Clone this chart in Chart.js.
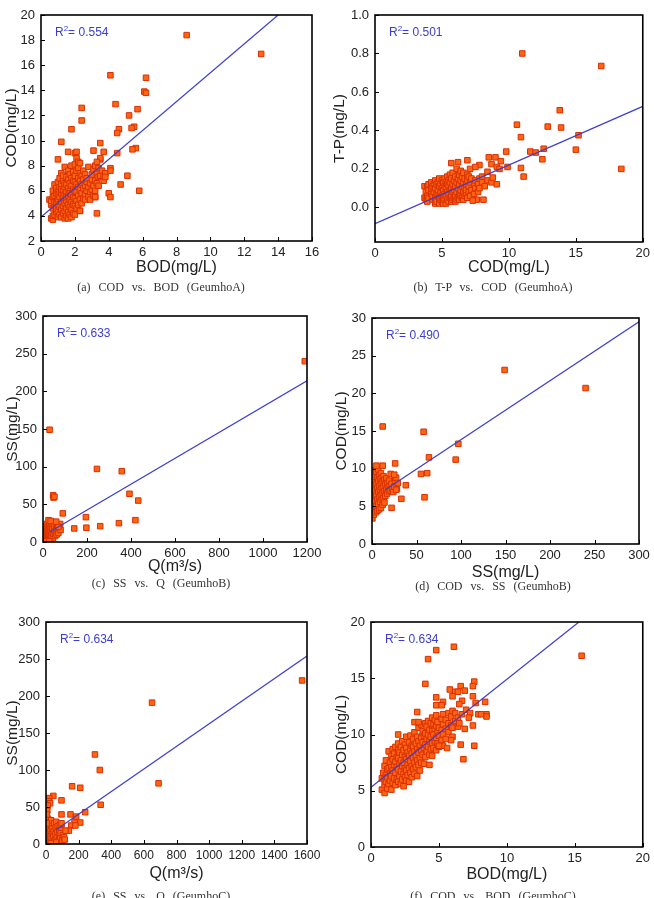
<!DOCTYPE html>
<html><head><meta charset="utf-8">
<script src="https://cdn.jsdelivr.net/npm/chart.js@4/dist/chart.umd.min.js"></script>
<style>
body{margin:0;width:654px;height:898px;background:#fff;position:relative;overflow:hidden}
canvas{position:absolute}
.cap{position:absolute;font-family:"Liberation Serif","DejaVu Serif",serif;font-size:12px;color:#333;white-space:pre;transform:translate(-50%,-50%);word-spacing:5px}
</style></head><body>
<script>
// ---------- DATA ----------
const aPoints = [[0.5,5.3],[0.6,3.8],[0.6,4.9],[0.6,5.2],[0.7,3.7],[0.7,4.0],[0.7,4.6],[0.7,5.5],[0.7,6.0],[0.8,4.1],[0.8,4.8],[0.8,5.6],[0.8,6.5],[0.8,5.1],[0.9,4.3],[0.9,5.0],[0.9,5.8],[0.9,6.2],[0.9,4.6],[1.0,3.9],[1.0,4.4],[1.0,5.3],[1.0,6.0],[1.0,6.7],[1.0,5.7],[1.0,4.9],[1.1,4.1],[1.1,4.7],[1.1,5.5],[1.1,6.3],[1.1,7.0],[1.1,5.9],[1.2,3.9],[1.2,4.5],[1.2,5.1],[1.2,5.8],[1.2,6.5],[1.2,7.4],[1.2,6.1],[1.3,4.2],[1.3,4.8],[1.3,5.4],[1.3,6.0],[1.3,6.8],[1.3,7.2],[1.3,5.6],[1.4,3.8],[1.4,4.4],[1.4,5.0],[1.4,5.7],[1.4,6.3],[1.4,7.9],[1.4,6.6],[1.5,4.0],[1.5,4.6],[1.5,5.2],[1.5,5.9],[1.5,6.5],[1.5,7.1],[1.5,5.5],[1.6,3.8],[1.6,4.3],[1.6,4.9],[1.6,5.6],[1.6,6.2],[1.6,6.9],[1.6,7.6],[1.7,4.1],[1.7,4.7],[1.7,5.3],[1.7,6.0],[1.7,6.6],[1.7,7.3],[1.7,5.8],[1.8,3.9],[1.8,4.5],[1.8,5.1],[1.8,5.7],[1.8,6.4],[1.8,7.0],[1.8,8.0],[1.9,4.2],[1.9,4.9],[1.9,5.5],[1.9,6.1],[1.9,6.8],[1.9,7.5],[2.0,4.1],[2.0,4.8],[2.0,5.4],[2.0,6.0],[2.0,6.7],[2.0,7.2],[2.0,8.1],[2.0,9.0],[2.1,4.6],[2.1,5.2],[2.1,5.9],[2.1,6.5],[2.1,7.6],[2.1,8.6],[2.2,4.9],[2.2,5.6],[2.2,6.3],[2.2,7.0],[2.2,7.8],[2.2,8.3],[2.3,4.4],[2.3,5.3],[2.3,6.1],[2.3,6.8],[2.3,7.4],[2.3,8.2],[2.4,5.0],[2.4,5.8],[2.4,6.5],[2.4,7.2],[2.5,5.4],[2.5,6.2],[2.5,6.9],[2.5,7.6],[2.6,5.7],[2.6,6.4],[2.6,7.3],[2.6,5.3],[2.7,6.0],[2.7,6.7],[2.7,7.0],[2.8,5.5],[2.8,6.3],[2.8,7.9],[2.9,5.9],[2.9,6.6],[2.9,5.3],[3.0,6.1],[3.0,6.9],[3.0,7.3],[3.1,5.6],[3.1,6.4],[3.1,7.7],[3.2,6.0],[3.2,6.8],[3.2,8.0],[3.2,5.5],[3.3,6.6],[3.3,7.4],[3.4,6.4],[3.4,7.1],[3.4,7.8],[3.5,7.2],[3.5,8.5],[3.6,7.6],[3.7,6.8],[3.7,7.2],[3.8,7.4],
 [8.6,18.4],[13.0,16.9],[4.1,15.2],[6.2,15.0],[6.1,13.9],[6.2,13.8],[4.4,12.9],[2.4,12.6],[5.7,12.5],[5.2,12.0],[2.4,11.6],[5.5,11.1],[5.35,11.0],[4.6,10.9],[1.8,10.9],[4.5,10.6],[1.2,9.9],[3.5,9.8],[5.6,9.4],[5.4,9.3],[3.1,9.2],[3.7,9.1],[1.6,9.1],[2.1,9.1],[4.5,9.0],[1.0,8.5],[3.5,8.6],[3.3,8.3],[4.1,7.8],[4.1,7.6],[5.1,7.2],[3.8,7.1],[4.7,6.5],[5.8,6.0],[4.0,5.8],[4.1,5.5],[3.3,4.2],[2.3,4.4],[3.2,5.5]];
const aFit = [[0,3.9],[14,20]];
const aXTicks = [0,2,4,6,8,10,12,14,16];
const aYTicks = [2,4,6,8,10,12,14,16,18,20];

const bPoints = [[3.7,0.05],[3.7,0.11],[3.8,0.04],[3.8,0.08],[3.9,0.03],[3.9,0.06],[3.9,0.11],[4.0,0.05],[4.0,0.09],[4.0,0.12],[4.2,0.07],[4.2,0.10],[4.2,0.13],[4.3,0.04],[4.3,0.06],[4.3,0.11],[4.4,0.08],[4.4,0.12],[4.5,0.02],[4.5,0.05],[4.5,0.10],[4.5,0.14],[4.6,0.03],[4.6,0.07],[4.6,0.12],[4.7,0.09],[4.7,0.13],[4.7,0.06],[4.8,0.02],[4.8,0.05],[4.8,0.11],[4.8,0.15],[4.9,0.04],[4.9,0.08],[4.9,0.12],[5.0,0.03],[5.0,0.06],[5.0,0.10],[5.0,0.14],[5.1,0.05],[5.1,0.09],[5.1,0.13],[5.1,0.02],[5.2,0.07],[5.2,0.11],[5.2,0.15],[5.2,0.04],[5.3,0.02],[5.3,0.06],[5.3,0.10],[5.3,0.13],[5.4,0.04],[5.4,0.08],[5.4,0.12],[5.4,0.16],[5.5,0.03],[5.5,0.07],[5.5,0.11],[5.5,0.14],[5.6,0.05],[5.6,0.09],[5.6,0.13],[5.6,0.17],[5.7,0.06],[5.7,0.10],[5.7,0.15],[5.7,0.03],[5.8,0.04],[5.8,0.08],[5.8,0.12],[5.8,0.18],[5.9,0.05],[5.9,0.09],[5.9,0.14],[6.0,0.06],[6.0,0.11],[6.0,0.16],[6.0,0.03],[6.1,0.04],[6.1,0.08],[6.1,0.13],[6.1,0.20],[6.2,0.05],[6.2,0.10],[6.2,0.15],[6.3,0.07],[6.3,0.12],[6.3,0.17],[6.3,0.04],[6.4,0.06],[6.4,0.09],[6.4,0.14],[6.4,0.19],[6.5,0.05],[6.5,0.11],[6.5,0.16],[6.6,0.08],[6.6,0.13],[6.6,0.18],[6.6,0.04],[6.7,0.06],[6.7,0.10],[6.7,0.15],[6.8,0.07],[6.8,0.12],[6.8,0.09],[6.9,0.05],[6.9,0.14],[6.9,0.17],[7.0,0.08],[7.0,0.11],[7.0,0.16],[7.1,0.06],[7.1,0.13],[7.1,0.20],[7.2,0.09],[7.2,0.15],[7.4,0.07],[7.4,0.12],[7.5,0.10],[7.5,0.14],[7.7,0.08],[7.7,0.12],[7.8,0.15],[7.8,0.10],[8.0,0.13],[8.0,0.16],[8.2,0.11],[8.4,0.14],[8.7,0.13],
 [11.0,0.80],[16.9,0.735],[13.8,0.505],[10.6,0.43],[12.9,0.42],[13.9,0.415],[15.2,0.375],[10.9,0.365],[15.0,0.30],[12.6,0.305],[11.6,0.29],[9.8,0.29],[12.0,0.285],[12.5,0.25],[18.4,0.20],[10.9,0.205],[11.1,0.16],[9.9,0.21],[9.0,0.26],[8.5,0.26],[9.4,0.24],[8.7,0.225],[9.1,0.21],[9.3,0.20],[9.1,0.12],[8.8,0.155],[8.4,0.185],[8.1,0.04],[7.6,0.04],[7.3,0.035],[6.9,0.245],[5.7,0.23],[6.2,0.235],[7.8,0.22],[7.5,0.21]];
const bFit = [[0,-0.085],[20,0.525]];
const bXTicks = [0,5,10,15,20];
const bYTicks = [0,0.2,0.4,0.6,0.8,1.0];

const cPoints = [[2,2],[3,5],[4,9],[5,12],[3,14],[6,7],[8,3],[8,11],[10,16],[10,21],[12,6],[12,13],[14,9],[15,18],[16,3],[18,24],[18,12],[20,7],[20,15],[22,20],[24,4],[24,10],[25,17],[27,13],[28,22],[30,6],[30,25],[32,10],[34,16],[35,3],[36,20],[38,8],[40,13],[42,18],[44,24],[45,5],[48,11],[50,16],[52,21],[55,8],[58,13],[60,18],[62,10],[65,22],[68,15],[70,12],[74,19],[80,16],[5,0.5],[15,1],[28,1],
 [1190,240],[30,149],[245,97],[358,94],[393,64],[46,62],[48,59],[52,60],[433,55],[90,38],[195,33],[420,29],[345,25],[260,21],[197,19],[142,18],[78,24],[70,20],[60,27],[25,29],[35,28]];
const cFit = [[30,13.3],[1200,214]];
const cXTicks = [0,200,400,600,800,1000,1200];
const cYTicks = [0,50,100,150,200,250,300];

const dPoints = [[0.5,3.4],[1,4.5],[1,6.0],[1,7.5],[1,9.8],[2,3.9],[2,5.3],[2,6.8],[2,8.5],[3,4.8],[3,6.2],[3,7.8],[3,9.2],[4,4.2],[4,5.7],[4,7.1],[4,8.9],[5,5.0],[5,6.5],[5,8.0],[5,9.6],[6,4.4],[6,5.9],[6,7.4],[6,8.7],[7,5.3],[7,6.9],[7,8.3],[7,9.9],[8,4.6],[8,6.2],[8,7.7],[8,9.1],[9,5.6],[9,7.1],[9,8.6],[10,4.8],[10,6.5],[10,8.0],[10,9.4],[11,5.9],[11,7.4],[11,8.8],[12,5.2],[12,6.8],[12,8.3],[13,6.1],[13,7.6],[13,9.0],[14,5.5],[14,7.0],[14,8.5],[15,6.4],[15,7.9],[16,7.2],[16,8.7],[17,6.7],[17,8.1],[18,7.5],[19,7.0],[19,8.4],[20,7.7],[21,7.1],[22,8.0],[23,7.3],[24,6.9],[25,7.6],[26,8.4],[28,7.3],[27,8.8],
 [149,23.1],[240,20.7],[12,15.6],[58,14.9],[97,13.3],[64,11.5],[94,11.2],[5,10.4],[12,10.4],[26,10.7],[55,9.3],[62,9.4],[21,9.3],[25,9.2],[38,7.8],[59,6.2],[33,6.0],[22,4.8],[29,8.1],[27,7.2]];
const dFit = [[15,7.2],[300,29.5]];
const dXTicks = [0,50,100,150,200,250,300];
const dYTicks = [0,5,10,15,20,25,30];

const ePoints = [[3,2],[5,8],[5,15],[6,22],[8,30],[8,35],[10,4],[12,12],[12,19],[14,26],[15,33],[18,6],[18,15],[20,22],[22,29],[25,3],[25,10],[28,18],[30,25],[32,32],[35,7],[36,14],[40,21],[42,2],[45,11],[48,17],[50,28],[55,5],[58,13],[60,22],[62,30],[66,9],[70,16],[72,24],[76,4],[80,12],[82,19],[88,8],[90,15],[95,22],[100,5],[104,12],[110,9],[115,6],[2,45],[3,50],[4,28],[60,2],[30,1],[85,26],
 [1570,221],[650,191],[690,82],[300,121],[330,100],[335,53],[160,78],[210,76],[45,65],[95,59],[240,43],[95,40],[150,40],[185,37],[210,29],[175,29],[95,28],[155,25],[180,25],[140,18],[120,18],[20,62],[15,58],[25,55],[10,52],[8,45],[5,40]];
const eFit = [[60,18.8],[1600,254]];
const eXTicks = [0,200,400,600,800,1000,1200,1400,1600];
const eYTicks = [0,50,100,150,200,250,300];

const fPoints = [[0.8,5.1],[0.8,6.1],[0.9,6.6],[1.0,4.8],[1.0,5.5],[1.0,6.0],[1.0,7.2],[1.1,5.8],[1.1,6.4],[1.1,7.7],[1.2,5.2],[1.2,6.2],[1.2,6.9],[1.3,5.6],[1.3,7.0],[1.3,8.5],[1.4,5.9],[1.4,6.5],[1.4,7.5],[1.5,5.1],[1.5,6.3],[1.5,7.1],[1.5,8.1],[1.6,5.7],[1.6,6.8],[1.6,7.8],[1.6,8.7],[1.7,6.1],[1.7,7.3],[1.7,8.3],[1.8,5.5],[1.8,6.6],[1.8,7.6],[1.8,8.9],[1.9,6.0],[1.9,7.1],[1.9,8.0],[2.0,5.8],[2.0,6.9],[2.0,7.9],[2.0,8.6],[2.0,9.2],[2.1,6.3],[2.1,7.4],[2.1,8.4],[2.2,5.6],[2.2,6.7],[2.2,7.7],[2.2,8.9],[2.3,6.0],[2.3,7.2],[2.3,8.2],[2.3,9.4],[2.4,5.4],[2.4,6.5],[2.4,7.5],[2.4,8.6],[2.5,6.2],[2.5,7.0],[2.5,8.0],[2.5,9.1],[2.6,5.9],[2.6,6.8],[2.6,7.8],[2.6,8.8],[2.6,9.8],[2.7,6.4],[2.7,7.3],[2.7,8.4],[2.8,5.8],[2.8,7.0],[2.8,8.1],[2.8,9.3],[2.9,6.6],[2.9,7.6],[2.9,8.7],[2.9,9.9],[3.0,6.2],[3.0,7.2],[3.0,8.3],[3.0,9.0],[3.1,6.9],[3.1,7.9],[3.1,8.9],[3.1,9.6],[3.2,6.5],[3.2,7.5],[3.2,8.5],[3.2,10.2],[3.3,7.1],[3.3,8.1],[3.3,9.2],[3.4,6.3],[3.4,7.7],[3.4,8.7],[3.4,9.8],[3.5,7.3],[3.5,8.4],[3.5,9.4],[3.5,10.6],[3.6,6.8],[3.6,7.9],[3.6,9.0],[3.7,7.5],[3.7,8.6],[3.7,9.7],[3.7,10.9],[3.8,8.2],[3.8,9.3],[3.8,10.3],[3.9,7.4],[3.9,8.8],[3.9,9.9],[4.0,8.0],[4.0,9.1],[4.0,10.1],[4.0,11.0],[4.1,8.5],[4.1,9.6],[4.1,10.7],[4.2,8.9],[4.2,10.0],[4.2,11.2],[4.3,8.2],[4.3,9.4],[4.3,10.4],[4.4,8.7],[4.4,9.8],[4.4,11.0],[4.5,8.1],[4.5,9.2],[4.5,10.3],[4.5,11.5],[4.6,8.8],[4.6,10.0],[4.6,10.9],[4.7,9.4],[4.7,10.5],[4.7,11.3],[4.8,8.6],[4.8,9.7],[4.8,10.8],[4.8,11.7],[4.9,9.2],[4.9,10.2],[4.9,11.1],[5.0,8.9],[5.0,9.9],[5.0,10.6],[5.2,9.5],[5.2,10.4],[5.2,11.4],[5.3,9.0],[5.3,10.0],[5.3,10.9],[5.3,11.8],[5.5,9.6],[5.5,10.5],[5.5,11.3],[5.7,10.2],[5.7,11.0],[5.7,11.9],[5.9,10.8],[5.9,11.6],[6.0,9.8],[6.0,10.6],[6.0,12.1],[6.2,11.2],[6.2,11.9],[6.4,10.7],[6.4,11.5],[6.5,11.0],[6.7,11.8],
 [6.1,17.8],[4.8,17.5],[4.2,16.7],[15.5,17.0],[4.0,14.5],[7.6,14.7],[7.5,14.3],[6.6,14.3],[5.8,14.0],[6.9,13.9],[6.2,13.8],[6.4,13.8],[6.0,13.4],[7.5,13.4],[4.8,13.3],[5.3,12.9],[8.4,12.9],[6.7,13.0],[7.7,12.8],[4.8,12.6],[5.2,12.6],[6.5,12.7],[7.0,12.2],[8.5,11.8],[8.5,11.6],[7.9,11.8],[8.1,11.8],[7.3,11.9],[7.2,11.5],[7.5,10.8],[6.9,10.5],[6.6,9.1],[7.6,9.0],[6.8,7.8],[5.6,8.8],[4.3,7.3],[3.4,12.0],[3.2,11.1],[3.5,11.1],[2.0,10.0],[5.0,9.0],[5.9,9.5]];
const fFit = [[0,5.3],[15.3,20]];
const fXTicks = [0,5,10,15,20];
const fYTicks = [0,5,10,15,20];

const r2Labels = ['0.554','0.501','0.633','0.490','0.634','0.634'];
const xTitles = ['BOD(mg/L)','COD(mg/L)','Q(m³/s)','SS(mg/L)','Q(m³/s)','BOD(mg/L)'];
const yTitles = ['COD(mg/L)','T-P(mg/L)','SS(mg/L)','COD(mg/L)','SS(mg/L)','COD(mg/L)'];
const captions = ['(a) COD vs. BOD (GeumhoA)','(b) T-P vs. COD (GeumhoA)','(c) SS vs. Q (GeumhoB)','(d) COD vs. SS (GeumhoB)','(e) SS vs. Q (GeumhoC)','(f) COD vs. BOD (GeumhoC)'];

// ---------- LAYOUT ----------
const panels = [
 {pts:aPoints, fit:aFit, xt:aXTicks, yt:aYTicks, xr:[0,16], yr:[2,20], dec:0, ts:13,
  left:0, top:0, plot:{l:41,t:15,r:312,b:241}, xTitleY:268, yTitleX:12, capY:287, capX:161},
 {pts:bPoints, fit:bFit, xt:bXTicks, yt:bYTicks, xr:[0,20], yr:[-0.18,1.0], dec:1, ts:13,
  left:327, top:0, plot:{l:375,t:15,r:643,b:242}, xTitleY:268, yTitleX:340, capY:287, capX:493},
 {pts:cPoints, fit:cFit, xt:cXTicks, yt:cYTicks, xr:[0,1200], yr:[0,300], dec:0, ts:13,
  left:0, top:296, plot:{l:43,t:316,r:307,b:542}, xTitleY:567, yTitleX:13, capY:583, capX:161},
 {pts:dPoints, fit:dFit, xt:dXTicks, yt:dYTicks, xr:[0,300], yr:[0,30], dec:0, ts:13,
  left:327, top:296, plot:{l:372,t:318,r:639,b:544}, xTitleY:573, yTitleX:342, capY:586, capX:493},
 {pts:ePoints, fit:eFit, xt:eXTicks, yt:eYTicks, xr:[0,1600], yr:[0,300], dec:0, ts:12,
  left:0, top:600, plot:{l:46,t:622,r:307,b:844}, xTitleY:874, yTitleX:13, capY:896, capX:161},
 {pts:fPoints, fit:fFit, xt:fXTicks, yt:fYTicks, xr:[0,20], yr:[0,20], dec:0, ts:13,
  left:327, top:600, plot:{l:371,t:622,r:643,b:847}, xTitleY:875, yTitleX:342, capY:896, capX:493}
];

const FONT = '"Liberation Sans", Arial, sans-serif';
const TXT = '#222';
const BLUE = '#3c3cd2';
const XT_SIZE = 16, YT_SIZE = 15.5;

const framePlugin = {
  id: 'frame',
  afterDatasetsDraw(chart, args, opts) {
    const ctx = chart.ctx, a = chart.chartArea;
    const xs = chart.scales.x, ys = chart.scales.y;
    ctx.save();
    ctx.strokeStyle = '#000';
    ctx.lineWidth = 1;
    ctx.beginPath();
    xs.ticks.forEach(t => { const px = Math.round(xs.getPixelForValue(t.value)) + 0.5; ctx.moveTo(px, a.bottom); ctx.lineTo(px, a.bottom - 4); });
    ys.ticks.forEach(t => { const py = Math.round(ys.getPixelForValue(t.value)) + 0.5; ctx.moveTo(a.left, py); ctx.lineTo(a.left + 4, py); });
    ctx.stroke();
    ctx.lineWidth = 1.6;
    ctx.strokeRect(a.left, a.top, a.right - a.left, a.bottom - a.top);
    // R2 label
    ctx.fillStyle = BLUE;
    ctx.textBaseline = 'middle';
    ctx.textAlign = 'left';
    let x = a.left + 14, y = a.top + 18;
    ctx.font = '12px ' + FONT;
    ctx.fillText('R', x, y); x += ctx.measureText('R').width;
    ctx.font = '8px ' + FONT;
    ctx.fillText('2', x, y - 4); x += ctx.measureText('2').width;
    ctx.font = '12px ' + FONT;
    ctx.fillText('= ' + opts.r2, x, y);
    ctx.restore();
  }
};

panels.forEach((p, i) => {
  const cv = document.createElement('canvas');
  const W = 327, bottom = p.xTitleY + 12, H = bottom - p.top;
  cv.width = W; cv.height = H;
  cv.style.left = p.left + 'px'; cv.style.top = p.top + 'px';
  cv.style.width = W + 'px'; cv.style.height = H + 'px';
  document.body.appendChild(cv);
  const cap = document.createElement('div');
  cap.className = 'cap';
  cap.textContent = captions[i];
  cap.style.left = p.capX + 'px'; cap.style.top = p.capY + 'px';
  document.body.appendChild(cap);

  const yW = p.plot.l - p.left;
  const xH = bottom - p.plot.b;
  const xlh = XT_SIZE * 1.2, ylh = YT_SIZE * 1.2;
  new Chart(cv, {
    type: 'scatter',
    data: {
      datasets: [
        { type: 'line', data: p.fit.map(d => ({x: d[0], y: d[1]})), borderColor: BLUE, borderWidth: 1.2,
          pointRadius: 0, fill: false, tension: 0 },
        { data: p.pts.map(d => ({x: d[0], y: d[1]})), pointStyle: 'rect', pointRadius: 3.9,
          backgroundColor: '#ff6414', borderColor: '#d83000', borderWidth: 1 }
      ]
    },
    options: {
      responsive: false, animation: false, devicePixelRatio: 1,
      layout: { padding: { left: 0, top: p.plot.t - p.top, right: p.left + W - p.plot.r, bottom: 0 } },
      plugins: { legend: { display: false }, tooltip: { enabled: false }, frame: { r2: r2Labels[i] } },
      scales: {
        x: {
          type: 'linear', min: p.xr[0], max: p.xr[1],
          grid: { display: false, drawTicks: false }, border: { display: false },
          afterBuildTicks: s => { s.ticks = p.xt.map(v => ({value: v})); },
          afterFit: s => { s.height = xH; },
          ticks: { padding: 4, color: TXT, font: { family: FONT, size: p.ts }, maxRotation: 0, minRotation: 0, autoSkip: false,
                   callback: v => String(v) },
          title: { display: true, text: xTitles[i], color: TXT, font: { family: FONT, size: XT_SIZE },
                   padding: { top: 0, bottom: bottom - p.xTitleY - xlh / 2 } }
        },
        y: {
          type: 'linear', min: p.yr[0], max: p.yr[1],
          grid: { display: false, drawTicks: false }, border: { display: false },
          afterBuildTicks: s => { s.ticks = p.yt.map(v => ({value: v})); },
          afterFit: s => { s.width = yW; },
          ticks: { padding: 6, color: TXT, font: { family: FONT, size: 13 }, autoSkip: false,
                   callback: v => Number(v).toFixed(p.dec) },
          title: { display: true, text: yTitles[i], color: TXT, font: { family: FONT, size: YT_SIZE },
                   padding: { top: p.yTitleX - p.left - ylh / 2, bottom: 0 } }
        }
      }
    },
    plugins: [framePlugin]
  });
});
</script>
</body></html>
